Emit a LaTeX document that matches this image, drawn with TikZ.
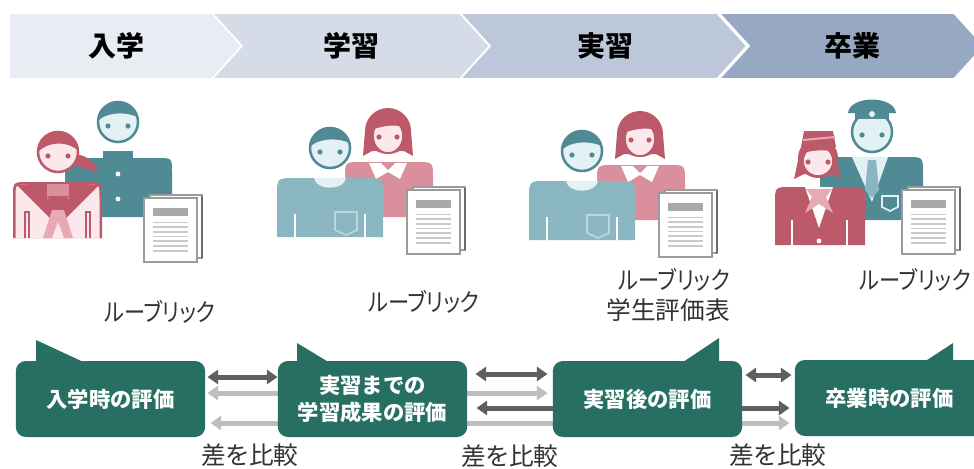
\documentclass[tikz,border=0pt]{standalone}
\usepackage{fontspec}
\setmainfont{Noto Sans CJK JP}
\newfontfamily\capfont{Noto Sans CJK JP}[RawFeature=+palt]
\newfontfamily\kanafont{Noto Sans CJK JP}[RawFeature=+palt, FakeStretch=0.86]
\usetikzlibrary{arrows.meta}

% header band
\definecolor{hdrA}{HTML}{E8ECF3}
\definecolor{hdrB}{HTML}{D5DCE8}
\definecolor{hdrC}{HTML}{BCC8DA}
\definecolor{hdrD}{HTML}{97A9C2}
% evaluation boxes and comparison arrows
\definecolor{evalgreen}{HTML}{276F63}
\definecolor{arrdark}{HTML}{5F5F5F}
\definecolor{arrlight}{HTML}{BEBEBE}
% figures
\definecolor{tealdark}{HTML}{4F8A95}
\definecolor{tealface}{HTML}{E3F1F5}
\definecolor{tealshirt}{HTML}{8AB6C1}
\definecolor{tealpocket}{HTML}{B9D6DD}
\definecolor{pinkdark}{HTML}{BD5A6A}
\definecolor{pinkface}{HTML}{FAE8EC}
\definecolor{pinkshirt}{HTML}{D98F9C}
\definecolor{pinklight}{HTML}{E7A9B3}
% documents
\definecolor{docline}{HTML}{C9C9C9}
\definecolor{docbar}{HTML}{A9A9A9}
\definecolor{docedge}{HTML}{9B9B9B}
\definecolor{labelgray}{HTML}{333333}

\pgfdeclarelayer{back}
\pgfsetlayers{back,main}

% upper body with rounded shoulders: left, top, right, bottom, corner, colour
\newcommand\torso[6]{%
  \fill[#6] (#1,#4) -- (#1,#2+#5) .. controls (#1,#2) .. (#1+#5,#2)
    -- (#3-#5,#2) .. controls (#3,#2) .. (#3,#2+#5) -- (#3,#4) -- cycle;}

% eyes of a face centred at (#1,#2)
\newcommand\eyepair[4]{%
  \fill[#3] (#1-#4,#2+4) circle[radius=2.6] (#1+#4,#2+4) circle[radius=2.6];}

% short-haired head
\newcommand\boyhead[2]{%
  \fill[tealface] (#1,#2) circle[radius=20];
  \begin{scope}
    \clip (#1,#2) circle[radius=20];
    \fill[tealdark] (#1-22,#2-22) -- (#1-22,#2+1)
      .. controls (#1-15,#2-9) and (#1+6,#2-12) .. (#1+22,#2-4)
      -- (#1+22,#2-22) -- cycle;
  \end{scope}
  \draw[tealdark, line width=1.9pt] (#1,#2) circle[radius=20];
  \eyepair{#1}{#2}{tealdark}{10}}

% head with ponytail
\newcommand\tailhead[2]{%
  \fill[pinkdark] (#1+15,#2+2) .. controls (#1+28,#2+2) and (#1+36,#2+10) .. (#1+40,#2+19)
    .. controls (#1+30,#2+19) and (#1+20,#2+15) .. (#1+13,#2+10) -- cycle;
  \fill[pinkface] (#1,#2) circle[radius=20];
  \begin{scope}
    \clip (#1,#2) circle[radius=20];
    \fill[pinkdark] (#1-22,#2-22) -- (#1-22,#2+2)
      .. controls (#1-12,#2-10) and (#1+8,#2-13) .. (#1+22,#2)
      -- (#1+22,#2-22) -- cycle;
  \end{scope}
  \draw[pinkdark, line width=1.9pt] (#1,#2) circle[radius=20];
  \eyepair{#1}{#2}{pinkdark}{10}}

% head with bobbed hair
\newcommand\bobhead[2]{%
  \fill[pinkdark] (#1,#2-1) circle[radius=23];
  \fill[pinkdark] (#1-23,#2-1) -- (#1-25,#2+24) -- (#1-16,#2+19)
    -- (#1+16,#2+19) -- (#1+25,#2+24) -- (#1+23,#2-1) -- cycle;
  \fill[pinkface] (#1,#2+4) ellipse[x radius=15, y radius=17];
  \begin{scope}
    \clip (#1,#2+4) ellipse[x radius=15, y radius=17];
    \fill[pinkdark] (#1-20,#2-20) -- (#1-20,#2-1)
      .. controls (#1-8,#2-5) and (#1+6,#2-10) .. (#1+20,#2-3)
      -- (#1+20,#2-20) -- cycle;
  \end{scope}
  \draw[pinkdark, line width=1.2pt] (#1,#2+4) ellipse[x radius=15, y radius=17];
  \eyepair{#1}{#2+1}{pinkdark}{9}}

% head with peaked cap
\newcommand\caphead[2]{%
  \fill[tealface] (#1,#2) circle[radius=20];
  \draw[tealdark, line width=1.9pt] (#1,#2) circle[radius=20];
  \fill[tealdark] (#1-24,#2-19) .. controls (#1-22,#2-37) and (#1+22,#2-37) .. (#1+24,#2-19) -- cycle;
  \fill[tealdark] (#1-17,#2-21) rectangle (#1+17,#2-13);
  \fill[tealface] (#1,#2-18) circle[radius=3];
  \eyepair{#1}{#2-1}{tealdark}{10}}

% head with pillbox hat
\newcommand\hathead[2]{%
  \fill[pinkdark] (#1,#2-2) circle[radius=20];
  \fill[pinkdark] (#1-19,#2-4) -- (#1-24,#2+19) -- (#1-14,#2+14)
    -- (#1+14,#2+14) -- (#1+22,#2+19) -- (#1+19,#2-4) -- cycle;
  \fill[pinkface] (#1,#2+1) ellipse[x radius=15, y radius=15];
  \begin{scope}
    \clip (#1,#2+1) ellipse[x radius=15, y radius=15];
    \fill[pinkdark] (#1-20,#2-20) -- (#1-20,#2-6)
      .. controls (#1-8,#2-9) and (#1+6,#2-12) .. (#1+20,#2-7)
      -- (#1+20,#2-20) -- cycle;
  \end{scope}
  \draw[pinkdark, line width=1.2pt] (#1,#2+1) ellipse[x radius=15, y radius=15];
  \fill[pinkdark] (#1-14,#2-29) -- (#1+15,#2-29) -- (#1+18,#2-13) -- (#1-17,#2-13) -- cycle;
  \draw[pinklight, line width=1.5pt] (#1-15,#2-20) -- (#1+17,#2-23);
  \eyepair{#1}{#2-2}{pinkdark}{10}}

% two stacked sheets, top-left corner of the front sheet at (#1,#2)
\newcommand\sheets[2]{%
  \filldraw[fill=white, draw=docedge, line width=1.1pt] (#1+6,#2-3) rectangle (#1+58,#2+60);
  \draw[docedge!70!black, line width=1.4pt] (#1+58,#2-2) -- (#1+58,#2+60);
  \filldraw[fill=white, draw=docedge, line width=1.1pt] (#1,#2) rectangle (#1+53,#2+64);
  \fill[docbar] (#1+9,#2+10) rectangle (#1+44,#2+18);
  \foreach \k in {0,...,6}
    \draw[docline, line width=1.3pt] (#1+9,#2+24.5+4.7*\k) -- (#1+44,#2+24.5+4.7*\k);}

\tikzset{
  phase/.style={font=\bfseries\fontsize{21}{24}\selectfont, text=black, inner sep=0pt},
  chevron/.style={draw=white, line width=1.3pt, line join=miter},
  evalbox/.style={fill=evalgreen, rounded corners=7.5pt, minimum width=142pt,
    minimum height=57pt, text=white, align=center, inner sep=0pt,
    font=\bfseries\fontsize{16}{20}\selectfont},
  speechtail/.style={fill=evalgreen},
  caption/.style={text=labelgray, inner sep=0pt, font=\capfont\fontsize{18.5}{22}\selectfont},
  kanacaption/.style={text=labelgray, inner sep=0pt, font=\kanafont\fontsize{18.5}{22}\selectfont},
  twoway/.style={line width=3.75pt, {Triangle[length=8pt, width=10.5pt]}-{Triangle[length=8pt, width=10.5pt]}},
}

\begin{document}
\begin{tikzpicture}[x=0.75pt, y=-0.75pt]
\useasboundingbox (0,0) rectangle (974,468);
\begin{pgfonlayer}{back}
  \fill[white] (0,0) rectangle (974,468);
\end{pgfonlayer}

% ---- phase header ----
\filldraw[chevron, fill=hdrA] (9,13) -- (212,13) -- (242,46) -- (212,79) -- (9,79) -- cycle;
\filldraw[chevron, fill=hdrB] (212,13) -- (460,13) -- (490,46) -- (460,79) -- (212,79) -- (242,46) -- cycle;
\filldraw[chevron, fill=hdrC] (460,13) -- (717,13) -- (747,46) -- (717,79) -- (460,79) -- (490,46) -- cycle;
\filldraw[chevron, fill=hdrD] (719,13) -- (954,13) -- (984,46) -- (954,79) -- (719,79) -- (749,46) -- cycle;
\node[phase] (ph1) at (116,46) {入学};
\node[phase] (ph2) at (351,46) {学習};
\node[phase] (ph3) at (605,46) {実習};
\node[phase] (ph4) at (852,46) {卒業};

% ---- entrance: pupils in school uniform ----
\boyhead{118}{122}
\torso{65}{158}{172}{217}{14}{tealdark}
\fill[tealdark] (103,151) rectangle (133,160);
\fill[white] (118,174) circle[radius=2.4] (118,199) circle[radius=2.4];
\tailhead{58}{152}
\torso{13}{182}{102}{238}{15}{pinkdark}
\torso{15.5}{184.5}{99.5}{238}{13}{pinkface}
\fill[pinkdark] (17,185) -- (58,226) -- (99,185) -- (69,183) -- (58,205) -- (47,183) -- cycle;
\fill[pinkshirt] (47,184) rectangle (69,199);
\fill[pinkdark] (47,196) -- (69,196) -- (58,210) -- cycle;
\fill[pinklight] (52,210) -- (64,210) -- (73,238) -- (43,238) -- cycle;
\fill[pinkface] (58,222) -- (64,238) -- (52,238) -- cycle;
\draw[pinkdark, line width=1.1pt] (25,238) -- (25,212) -- (29,212) -- (29,238);
\draw[pinkdark, line width=1.1pt] (86,238) -- (86,212) -- (90,212) -- (90,238);
\sheets{144}{198}

% ---- study and internship: students in casual wear ----
\foreach \dx/\dy in {0/0, 252/3} {
  \begin{scope}[shift={(\dx,\dy)}]
    \bobhead{388}{132}
    \torso{345}{162}{433}{217}{16}{pinkshirt}
    \fill[white] (369,163) -- (407,163) -- (400,179) -- (388,172) -- (376,179) -- cycle;
    \fill[pinkshirt] (381,163) -- (395,163) -- (388,170) -- cycle;
    \boyhead{330}{148}
    \torso{277}{178}{383}{237}{18}{tealshirt}
    \fill[tealface] (314,178) .. controls (316,191) and (344,191) .. (346,178) -- cycle;
    \draw[white, line width=2pt] (295,214) -- (295,238) (365,214) -- (365,238);
    \draw[tealpocket, line width=1.3pt] (335,212) -- (357,212) -- (357,230) -- (346,235) -- (335,230) -- cycle;
    \sheets{407}{190}
  \end{scope}
}

% ---- graduation: staff in work uniform ----
\caphead{872}{132}
\torso{820}{157}{923}{220}{16}{tealdark}
\fill[tealface] (852,157) -- (888,157) -- (872,202) -- cycle;
\fill[tealshirt] (868,160) -- (876,160) -- (879,190) -- (872,198) -- (865,190) -- cycle;
\draw[tealface, line width=1.2pt] (882,196) -- (898,196) -- (898,207) -- (890,211) -- (882,207) -- cycle;
\hathead{818}{160}
\torso{775}{187}{865}{245}{16}{pinkdark}
\fill[white] (805,187) -- (833,187) -- (819,228) -- cycle;
\fill[pinklight] (806,189) -- (832,189) -- (826,197) -- (833,213) -- (819,204) -- (805,213) -- (812,197) -- cycle;
\fill[white] (819,204) -- (823,214) -- (815,214) -- cycle;
\draw[white, line width=1.6pt] (792,220) -- (792,246) (847,220) -- (847,246);
\fill[white] (819,241) circle[radius=2.4];
\sheets{902}{190}

% ---- captions ----
\node[kanacaption] (cap1) at (160,312) {ルーブリック};
\node[kanacaption] (cap2) at (424,302) {ルーブリック};
\node[caption, align=right, anchor=east] (cap3) at (730,295) {{\kanafont ルーブリック}\\学生評価表};
\node[kanacaption, anchor=east] (cap4) at (971,280) {ルーブリック};

% ---- evaluation boxes ----
\node[evalbox] (b1) at (110.5,399) {入学時の評価};
\node[evalbox] (b2) at (372.5,399) {実習までの\\学習成果の評価};
\node[evalbox] (b3) at (647.5,399) {実習後の評価};
\node[evalbox] (b4) at (889.5,398) {卒業時の評価};
\fill[speechtail] (36,340) -- (36,366) -- (92,366) -- cycle;
\fill[speechtail] (297,343) -- (297,366) -- (335,366) -- cycle;
\fill[speechtail] (719,338) -- (719,366) -- (677,366) -- cycle;
\fill[speechtail] (953,343) -- (953,364) -- (921,364) -- cycle;

% ---- comparisons between neighbouring stages ----
\draw[twoway, arrdark, shorten <=1.5pt, shorten >=0pt] (b1.east |- 0,377) -- (b2.west |- 0,377);
\draw[twoway, arrdark, shorten <=6pt, shorten >=3.75pt] (b2.east |- 0,374) -- (b3.west |- 0,374);
\draw[twoway, arrdark, shorten <=2.25pt, shorten >=2.25pt] (b3.east |- 0,375) -- (b4.west |- 0,375);

% ---- longer comparisons, running behind the boxes ----
\begin{pgfonlayer}{back}
  \draw[twoway, arrlight, shorten <=1.5pt, shorten >=3.75pt] (b1.east |- 0,393) -- (b3.west |- 0,393);
  \draw[twoway, arrdark, shorten <=6.75pt, shorten >=3.75pt] (b2.east |- 0,408) -- (b4.west |- 0,408);
  \draw[twoway, arrlight, shorten <=3.75pt, shorten >=3.75pt] (b1.east |- 0,423) -- (b4.west |- 0,423);
\end{pgfonlayer}

\node[caption] (diff1) at (250,455) {差を比較};
\node[caption] (diff2) at (510,456) {差を比較};
\node[caption] (diff3) at (778,455) {差を比較};
\end{tikzpicture}
\end{document}
